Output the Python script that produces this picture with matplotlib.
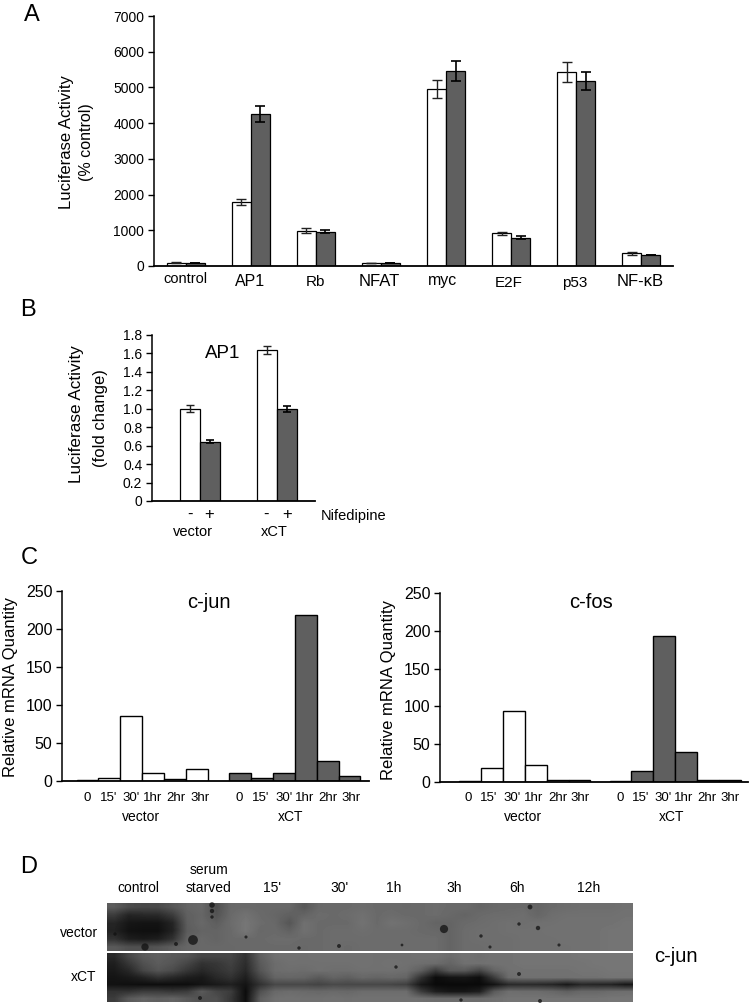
import numpy as np
import matplotlib
matplotlib.use("Agg")
import matplotlib.pyplot as plt

plt.rcParams['font.family'] = ['Liberation Sans', 'DejaVu Sans']

W, H = 749, 1006

# panel A
a_labels = ["control", "AP1", "Rb", "NFAT", "myc", "E2F", "p53", "NF-\u03baB"]
a_vector = [90, 1800, 990, 85, 4950, 910, 5440, 350]
a_xct = [85, 4260, 960, 85, 5460, 790, 5170, 310]
a_vector_err = [10, 80, 70, 8, 260, 55, 280, 30]
a_xct_err = [10, 220, 50, 8, 270, 45, 250, 10]
a_ticks = [0, 1000, 2000, 3000, 4000, 5000, 6000, 7000]

# panel B
b_white = [1.0, 1.64]
b_dark = [0.645, 1.0]
b_white_err = [0.04, 0.045]
b_dark_err = [0.02, 0.03]
b_ticks = [0, 0.2, 0.4, 0.6, 0.8, 1.0, 1.2, 1.4, 1.6, 1.8]
b_ticklabels = ["0", "0.2", "0.4", "0.6", "0.8", "1.0", "1.2", "1.4", "1.6", "1.8"]

# panel C
times = ["0", "15'", "30'", "1hr", "2hr", "3hr"]
jun_vector = [1, 4, 86, 10, 3, 16]
jun_xct = [10, 4, 10, 219, 26, 7]
fos_vector = [1, 18, 94, 22, 2, 2]
fos_xct = [1, 15, 193, 40, 2, 3]
c_ticks = [0, 50, 100, 150, 200, 250]

# panel D, grey levels
vector_blot = [
    [92,76,72,74,86,100,104,80,104,106,104,104,104,88,104,106,106,108,106,106,104,106,108,106,106,100,104,106,106,100,106,108,110,110,110,112],
    [60,36,40,42,60,96,102,84,106,114,106,102,96,100,108,106,108,112,106,108,106,106,108,104,100,106,108,108,110,102,110,112,112,112,112,114],
    [38,22,20,20,36,94,104,94,108,118,108,104,86,112,106,106,106,114,106,114,110,106,100,100,106,108,110,112,110,112,112,114,114,114,114,116],
    [34,18,16,16,34,92,100,100,106,118,104,106,98,112,106,108,108,110,108,108,108,106,104,100,108,110,110,112,112,112,114,114,114,114,116,116],
    [50,30,26,30,50,98,104,100,106,106,106,108,108,106,106,108,108,108,108,108,108,108,108,100,108,110,110,110,112,112,112,114,114,114,116,116],
    [90,80,80,84,94,102,104,104,104,106,106,106,106,104,106,108,106,108,108,108,108,108,108,100,108,108,110,110,112,112,112,112,114,114,116,116],
]
xct_blot = [
    [40,70,90,95,90,85,70,70,70,50,95,112,114,112,114,114,114,114,112,112,112,114,114,108,114,110,114,114,116,116,116,116,118,118,118,118],
    [30,55,80,92,85,70,50,55,65,45,90,108,112,112,112,112,112,114,112,114,112,110,108,100,112,112,114,114,116,116,116,116,116,118,118,118],
    [25,40,70,85,75,55,40,50,60,40,85,108,110,108,112,110,110,112,112,112,110,95,60,90,90,70,100,112,114,114,114,114,116,116,118,118],
    [20,25,35,50,40,30,25,40,50,30,70,100,102,100,90,100,95,104,100,104,100,50,12,20,22,14,60,108,112,112,112,112,114,114,116,116],
    [18,16,14,14,14,14,20,26,32,20,50,72,72,72,68,74,72,72,72,70,64,24,10,10,10,10,20,42,44,42,38,26,40,38,36,24],
    [50,50,60,60,55,60,90,70,60,12,80,105,108,106,104,106,104,108,108,108,108,60,30,22,22,30,90,110,108,108,104,96,104,104,108,110],
    [60,90,100,95,100,90,80,80,55,14,95,112,114,112,112,114,112,114,114,114,114,112,108,108,108,108,112,116,116,116,116,116,116,116,118,118],
]
spot_x = [193, 145, 176, 444, 115, 212, 212, 212, 530, 538, 299, 339, 246, 481, 490, 519, 402, 519, 559, 396, 461, 540, 200]
spot_y = [940, 947, 944, 929, 934, 905, 911, 917, 907, 928, 948, 946, 937, 936, 947, 924, 945, 974, 945, 967, 1000, 1001, 998]
spot_s = [50, 28, 8, 35, 6, 16, 10, 6, 12, 10, 6, 8, 5, 6, 5, 6, 4, 8, 5, 6, 6, 8, 8]

WHITE = "white"
DARK = "#5f5f5f"


def make_axes(fig, left, right, top, bottom):
    ax = fig.add_axes([left / W, 1 - bottom / H, (right - left) / W, (bottom - top) / H])
    for side in ["top", "right"]:
        ax.spines[side].set_visible(False)
    ax.spines["left"].set_linewidth(1.1)
    ax.spines["bottom"].set_linewidth(1.3)
    ax.tick_params(axis="x", bottom=False, labelbottom=False)
    ax.tick_params(axis="y", length=4, width=1, pad=3)
    ax.patch.set_alpha(0)
    return ax


def txt(x, y, s, size=10, rotation=0):
    fig.text(x / W, 1 - y / H, s, fontsize=size, rotation=rotation, ha="center", va="center")


fig = plt.figure(figsize=(W / 100, H / 100), dpi=100)

# A
ax = make_axes(fig, 154, 673, 16, 266)
x = np.arange(len(a_labels))
ax.bar(x - 0.146, a_vector, 0.292, color=WHITE, edgecolor="black", linewidth=0.9,
       yerr=a_vector_err, ecolor="#222222", error_kw=dict(capsize=3.5, elinewidth=1, capthick=1))
ax.bar(x + 0.146, a_xct, 0.292, color=DARK, edgecolor="black", linewidth=0.9,
       yerr=a_xct_err, ecolor="black", error_kw=dict(capsize=3.5, elinewidth=1.2, capthick=1.2))
ax.set_xlim(-0.49, 7.49)
ax.set_ylim(0, 7000)
ax.set_yticks(a_ticks)
ax.tick_params(axis="y", labelsize=10)
a_label_x = [185, 250, 315, 379, 443, 509, 575, 640]
a_label_y = [279, 282, 282, 282, 280, 283, 283, 282]
a_label_size = [10.5, 11.5, 11, 12, 11.5, 11, 11, 12]
for lx, ly, s, sz in zip(a_label_x, a_label_y, a_labels, a_label_size):
    txt(lx, ly, s, sz)
txt(66, 142, "Luciferase Activity", 12, 90)
txt(87, 142, "(% control)", 11.5, 90)

# B
ax = make_axes(fig, 152, 315, 335, 501)
x = np.arange(2)
ax.bar(x - 0.13, b_white, 0.26, color=WHITE, edgecolor="black", linewidth=0.9,
       yerr=b_white_err, ecolor="#222222", error_kw=dict(capsize=3, elinewidth=1, capthick=1))
ax.bar(x + 0.13, b_dark, 0.26, color=DARK, edgecolor="black", linewidth=0.9,
       yerr=b_dark_err, ecolor="black", error_kw=dict(capsize=3, elinewidth=1.2, capthick=1.2))
ax.set_xlim(-0.62, 1.5)
ax.set_ylim(0, 1.8)
ax.set_yticks(b_ticks, b_ticklabels)
ax.tick_params(axis="y", labelsize=10)
txt(223, 354, "AP1", 13.5)
txt(77, 414, "Luciferase Activity", 12.3, 90)
txt(100, 418, "(fold change)", 12, 90)
for lx, s in zip([190, 209, 266, 287], ["-", "+", "-", "+"]):
    txt(lx, 514, s, 12)
txt(354, 516, "Nifedipine", 10.5)
txt(193, 532, "vector", 10.5)
txt(274, 532, "xCT", 10.5)

# C, both panels are built the same way
c_panels = [
    (jun_vector, jun_xct, "c-jun", 62, 369, 591, 781, 87.5, 240, 11, 687, 209,
     [87, 109, 131, 153, 176, 200, 239, 261, 284, 305, 328, 351], 141, 291),
    (fos_vector, fos_xct, "c-fos", 440, 748, 593, 782, 470, 620.5, 389, 690, 591,
     [468, 489, 512, 534, 558, 580, 620, 641, 663, 684, 707, 730], 523, 672),
]
for vec, xct, title, left, right, top, bottom, v0, x0, yl_x, yl_y, t_x, lab_x, vec_x, xct_x in c_panels:
    ax = make_axes(fig, left, right, top, bottom)
    ax.set_xlim(left, right)
    ax.set_ylim(0, 250)
    ax.bar(v0 + 21.9 * np.arange(6), vec, 21.9, color=WHITE, edgecolor="black", linewidth=1)
    ax.bar(x0 + 21.9 * np.arange(6), xct, 21.9, color=DARK, edgecolor="black", linewidth=1)
    ax.set_yticks(c_ticks)
    ax.tick_params(axis="y", labelsize=11.5)
    txt(yl_x, yl_y, "Relative mRNA Quantity", 12, 90)
    txt(t_x, 603, title, 14.5)
    for lx, s in zip(lab_x, times + times):
        txt(lx, 798, s, 9.5)
    txt(vec_x, 817, "vector", 10)
    txt(xct_x, 817, "xCT", 10)

# D
bg = fig.add_axes([0, 0, 1, 1])
bg.set_xlim(0, W)
bg.set_ylim(H, 0)
bg.axis("off")
bg.patch.set_alpha(0)
bg.imshow(np.array(vector_blot), cmap="gray", vmin=0, vmax=255, interpolation="bilinear",
          extent=(107, 633, 951, 903), aspect="auto")
bg.imshow(np.array(xct_blot), cmap="gray", vmin=0, vmax=255, interpolation="bilinear",
          extent=(107, 633, 1002, 953), aspect="auto")
bg.scatter(spot_x, spot_y, s=spot_s, color="#111111", alpha=0.75, linewidths=0)
bg.set_xlim(0, W)
bg.set_ylim(H, 0)

d_x = [138, 272, 339, 394, 454, 517, 589]
d_labels = ["control", "15'", "30'", "1h", "3h", "6h", "12h"]
for lx, s in zip(d_x, d_labels):
    txt(lx, 888, s, 10)
txt(209, 870, "serum", 10)
txt(209, 888, "starved", 10)
txt(79, 933, "vector", 10)
txt(84, 977, "xCT", 10)
txt(676, 957, "c-jun", 14.5)

for s, lx, ly in [("A", 32, 15), ("B", 28, 310), ("C", 29, 558), ("D", 29, 867)]:
    txt(lx, ly, s, 17)

fig.savefig("out.png", dpi=100, facecolor="white")
